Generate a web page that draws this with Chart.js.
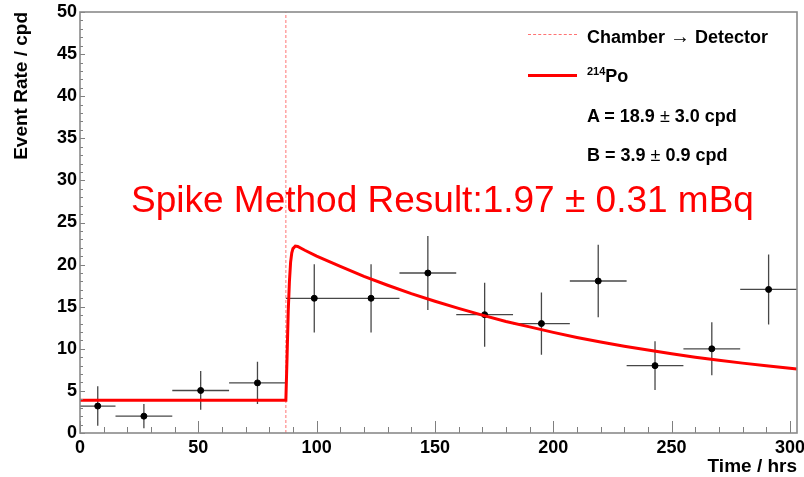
<!DOCTYPE html>
<html>
<head>
<meta charset="utf-8">
<title>Spike Method Result</title>
<script src="https://cdn.jsdelivr.net/npm/chart.js@4.4.1/dist/chart.umd.min.js"></script>
<style>
    body { margin: 0; background: #fff; }
    #wrap { position: relative; width: 804px; height: 477px; font-family: "Liberation Sans", Arial, sans-serif; }
    #chart { position: absolute; left: 0; top: 0; }
    .txt { position: absolute; white-space: nowrap; line-height: 1; }
    .leg { font-size: 18px; font-weight: bold; color: #000; }
    .leg sup { font-size: 11px; vertical-align: 7px; line-height: 0; }
    .pm { font-weight: normal; }
    .arrow { font-weight: normal; font-size: 20px; }
    .sample { position: absolute; width: 49px; }
    .sample.dashed { border-top: 1px dashed rgba(255, 0, 0, 0.55); }
    .sample.solid { border-top: 3px solid #ff0000; }
    #result { font-size: 37px; color: #ff0000; }
</style>
</head>
<body>
<div id="wrap">
    <canvas id="chart" width="804" height="477"></canvas>
    <div class="sample dashed" style="left:528px; top:34px;"></div>
    <div class="txt leg" style="left:587px; top:26px;">Chamber <span class="arrow">&rarr;</span> Detector</div>
    <div class="sample solid" style="left:528px; top:74px;"></div>
    <div class="txt leg" style="left:587px; top:67px;"><sup>214</sup>Po</div>
    <div class="txt leg" style="left:587px; top:107px;">A = 18.9 <span class="pm">&plusmn;</span> 3.0 cpd</div>
    <div class="txt leg" style="left:587px; top:146px;">B = 3.9 <span class="pm">&plusmn;</span> 0.9 cpd</div>
    <div class="txt" id="result" style="left:131px; top:181px;">Spike Method Result:1.97 &plusmn; 0.31 mBq</div>
</div>
<script>
// measured bins (hrs) and event rates (cpd)
const binCenters = [7.5, 27, 51, 75, 99, 123, 147, 171, 195, 219, 243, 267, 291];
const binHalfWidths = [7.5, 12, 12, 12, 12, 12, 12, 12, 12, 12, 12, 12, 12];
const rates = [3.2, 2.0, 5.05, 5.95, 16.0, 16.0, 19.0, 14.05, 13.0, 18.05, 8.0, 10.0, 17.05];
const rateErrors = [2.35, 1.45, 2.3, 2.5, 4.05, 4.05, 4.4, 3.8, 3.7, 4.3, 2.9, 3.15, 4.15];

// 214Po fit curve
const fitTimes = [0, 87, 87.5, 88, 88.5, 89, 89.5, 90, 91, 92, 95, 100, 110, 120, 130, 140, 150, 160, 170, 180, 190, 200, 210, 220, 230, 240, 250, 260, 270, 280, 290, 300, 303];
const fitRates = [3.9, 3.9, 9.0, 14.5, 18.0, 20.3, 21.4, 21.9, 22.2, 22.15, 21.7, 21.0, 19.8, 18.6, 17.55, 16.55, 15.65, 14.8, 14.0, 13.25, 12.6, 11.95, 11.35, 10.8, 10.3, 9.85, 9.4, 9.0, 8.65, 8.3, 8.0, 7.7, 7.6];

// chamber -> detector transfer time
const transferTime = [87, 87];
const transferRange = [0, 50];

const xTicks = [0, 50, 100, 150, 200, 250, 300];
const yTicks = [0, 5, 10, 15, 20, 25, 30, 35, 40, 45, 50];
const xMinorStep = 10;
const yMinorStep = 1;

const errorBars = {
    id: "errorBars",
    beforeDatasetsDraw(chart) {
        const {ctx, scales: {x, y}} = chart;
        ctx.save();
        ctx.strokeStyle = "rgba(0, 0, 0, 0.72)";
        ctx.lineWidth = 1.3;
        ctx.beginPath();
        binCenters.forEach((t, i) => {
            const px = x.getPixelForValue(t);
            const py = y.getPixelForValue(rates[i]);
            ctx.moveTo(x.getPixelForValue(t - binHalfWidths[i]), py);
            ctx.lineTo(x.getPixelForValue(t + binHalfWidths[i]), py);
            ctx.moveTo(px, y.getPixelForValue(rates[i] + rateErrors[i]));
            ctx.lineTo(px, y.getPixelForValue(rates[i] - rateErrors[i]));
        });
        ctx.stroke();
        ctx.restore();
    }
};

const frameAndTicks = {
    id: "frameAndTicks",
    afterDatasetsDraw(chart) {
        const {ctx, chartArea: a, scales: {x, y}} = chart;
        ctx.save();
        ctx.strokeStyle = "#7f7f7f";
        ctx.lineWidth = 1;
        ctx.beginPath();
        for (let v = 0; v <= x.max; v += xMinorStep) {
            const px = Math.round(x.getPixelForValue(v)) + 0.5;
            const len = xTicks.includes(v) ? 12 : 6;
            ctx.moveTo(px, a.bottom);
            ctx.lineTo(px, a.bottom - len);
        }
        for (let v = 0; v <= y.max; v += yMinorStep) {
            const py = Math.round(y.getPixelForValue(v)) + 0.5;
            const len = yTicks.includes(v) ? 5 : 3;
            ctx.moveTo(a.left, py);
            ctx.lineTo(a.left + len, py);
        }
        ctx.stroke();
        ctx.strokeStyle = "#8a8a8a";
        ctx.lineWidth = 1.6;
        ctx.strokeRect(a.left, a.top, a.right - a.left, a.bottom - a.top);
        ctx.restore();
    }
};

function toPoints(xs, ys) {
    return xs.map((v, i) => ({x: v, y: ys[i]}));
}

function init() {
    const ctx = document.getElementById("chart").getContext("2d");
    const tickFont = {family: "'Liberation Sans', Arial, sans-serif", size: 18, weight: "bold"};
    const titleFont = {family: "'Liberation Sans', Arial, sans-serif", size: 19, weight: "bold", lineHeight: 1};

    new Chart(ctx, {
        type: "scatter",
        data: {
            datasets: [
                {
                    type: "line",
                    label: "214Po",
                    data: toPoints(fitTimes, fitRates),
                    borderColor: "#ff0000",
                    borderWidth: 3,
                    pointRadius: 0,
                    tension: 0,
                    order: 0
                },
                {
                    label: "Data",
                    data: toPoints(binCenters, rates),
                    backgroundColor: "#000",
                    borderColor: "#000",
                    pointRadius: 3,
                    order: 1
                },
                {
                    type: "line",
                    label: "Chamber -> Detector",
                    data: toPoints(transferTime, transferRange),
                    borderColor: "rgba(255, 0, 0, 0.55)",
                    borderWidth: 1,
                    borderDash: [3, 2],
                    pointRadius: 0,
                    order: 2
                }
            ]
        },
        options: {
            responsive: false,
            animation: false,
            layout: {padding: {top: 12, right: 7, left: 0, bottom: 0}},
            plugins: {
                legend: {display: false},
                tooltip: {enabled: false}
            },
            scales: {
                x: {
                    type: "linear",
                    min: 0,
                    max: 303,
                    grid: {display: false, drawTicks: false},
                    border: {display: false},
                    ticks: {font: tickFont, color: "#000", padding: 4, maxRotation: 0},
                    title: {display: true, text: "Time / hrs", align: "end", color: "#000", font: titleFont, padding: {top: 0, bottom: 1}},
                    afterBuildTicks: scale => { scale.ticks = xTicks.map(v => ({value: v})); },
                    afterFit: scale => {
                        scale.height = 44;
                        scale.paddingLeft = 0;
                        scale.paddingRight = 0;
                    }
                },
                y: {
                    type: "linear",
                    min: 0,
                    max: 50,
                    grid: {display: false, drawTicks: false},
                    border: {display: false},
                    ticks: {font: tickFont, color: "#000", padding: 3},
                    title: {display: true, text: "Event Rate / cpd", align: "end", color: "#000", font: titleFont, padding: {top: 12, bottom: 0}},
                    afterBuildTicks: scale => { scale.ticks = yTicks.map(v => ({value: v})); },
                    afterFit: scale => {
                        scale.width = 80;
                        scale.paddingTop = 0;
                        scale.paddingBottom = 0;
                    }
                }
            }
        },
        plugins: [errorBars, frameAndTicks]
    });
}

init();
</script>
</body>
</html>
